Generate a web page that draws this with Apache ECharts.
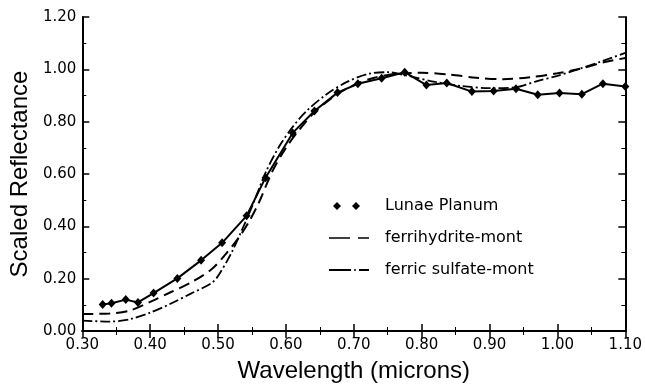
<!DOCTYPE html>
<html><head><meta charset="utf-8">
<script src="https://cdn.jsdelivr.net/npm/echarts@6/dist/echarts.min.js"></script>
<style>html,body{margin:0;padding:0;background:#fff}#c{width:645px;height:388px}</style>
</head><body><div id="c"></div>
<script>
// Lunae Planum measured points
const lunaeX = [0.330,0.343,0.364,0.382,0.405,0.440,0.475,0.506,0.542,0.570,0.610,0.642,0.676,0.706,0.741,0.775,0.807,0.837,0.874,0.906,0.939,0.971,1.003,1.036,1.067,1.100];
const lunaeY = [0.101,0.106,0.120,0.109,0.145,0.201,0.270,0.337,0.440,0.586,0.757,0.841,0.911,0.945,0.966,0.989,0.940,0.948,0.915,0.917,0.926,0.903,0.910,0.905,0.945,0.934];
// ferrihydrite-mont
const ferriX = [0.30,0.34,0.37,0.40,0.43,0.46,0.49,0.51,0.53,0.545,0.56,0.58,0.60,0.62,0.64,0.67,0.70,0.73,0.76,0.80,0.84,0.88,0.92,0.96,1.00,1.03,1.07,1.10];
const ferriY = [0.065,0.067,0.078,0.111,0.148,0.185,0.235,0.290,0.355,0.415,0.490,0.610,0.700,0.770,0.830,0.895,0.940,0.968,0.982,0.987,0.980,0.968,0.962,0.970,0.985,1.000,1.028,1.043];
// ferric sulfate-mont
const sulfX = [0.30,0.34,0.37,0.40,0.43,0.46,0.49,0.50,0.52,0.535,0.55,0.57,0.59,0.61,0.63,0.66,0.69,0.72,0.75,0.78,0.82,0.86,0.90,0.94,0.97,1.00,1.03,1.07,1.10];
const sulfY = [0.040,0.036,0.045,0.070,0.104,0.143,0.182,0.210,0.300,0.385,0.475,0.605,0.705,0.780,0.840,0.905,0.952,0.982,0.989,0.975,0.952,0.936,0.928,0.932,0.955,0.975,1.000,1.035,1.063];
// axis ticks
const xTicks = [0.30,0.40,0.50,0.60,0.70,0.80,0.90,1.00,1.10];
const yTicks = [0.00,0.20,0.40,0.60,0.80,1.00,1.20];

const pairs = (xs, ys) => xs.map((x, i) => [x, ys[i]]);
const F = 'DejaVu Sans';
const axisCommon = {
  axisLine: {show: true, lineStyle: {color: '#000', width: 2}},
  axisTick: {show: true, inside: true, length: 7, lineStyle: {color: '#000', width: 1.5}},
  minorTick: {show: true, splitNumber: 2, length: 4, lineStyle: {color: '#000', width: 1}},
  splitLine: {show: false}
};
const chart = echarts.init(document.getElementById('c'));
chart.setOption({
  animation: false,
  backgroundColor: '#fff',
  grid: {left: 82, right: 15, top: 17, bottom: 54},
  xAxis: [
    Object.assign({}, axisCommon, {
      type: 'value', min: xTicks[0], max: xTicks[xTicks.length-1], interval: 0.1,
      name: 'Wavelength (microns)', nameLocation: 'middle', nameGap: 28,
      nameTextStyle: {fontFamily: 'Liberation Sans', fontSize: 24, color: '#000'},
      axisLabel: {fontFamily: F, fontSize: 15, color: '#000', margin: 7, formatter: v => v.toFixed(2)}
    }),
    Object.assign({}, axisCommon, {
      type: 'value', position: 'top', min: xTicks[0], max: xTicks[xTicks.length-1], interval: 0.1,
      axisLabel: {show: false}
    })
  ],
  yAxis: [
    Object.assign({}, axisCommon, {
      type: 'value', min: yTicks[0], max: yTicks[yTicks.length-1], interval: 0.2,
      name: 'Scaled Reflectance', nameLocation: 'middle', nameGap: 48,
      nameTextStyle: {fontFamily: 'Liberation Sans', fontSize: 24, color: '#000'},
      axisLabel: {fontFamily: F, fontSize: 15, color: '#000', margin: 6, formatter: v => v.toFixed(2)}
    }),
    Object.assign({}, axisCommon, {
      type: 'value', position: 'right', min: yTicks[0], max: yTicks[yTicks.length-1], interval: 0.2,
      axisLabel: {show: false}
    })
  ],
  legend: {
    orient: 'vertical', left: 324, top: 191,
    itemWidth: 40, itemHeight: 10, itemGap: 12,
    symbolKeepAspect: true,
    textStyle: {fontFamily: F, fontSize: 16, color: '#000', lineHeight: 20, padding: [0,0,0,11]},
    data: [
      {name: 'Lunae Planum', icon: 'path://M0,0h0.01v0.01h-0.01Z M40,10h-0.01v-0.01h0.01Z M8,1L12,5L8,9L4,5Z M27,1L31,5L27,9L23,5Z'},
      {name: 'ferrihydrite-mont', icon: 'path://M0,0h0.01v0.01h-0.01Z M40,10h-0.01v-0.01h0.01Z M0,4.2h21v1.6h-21Z M29,4.2h11v1.6h-11Z'},
      {name: 'ferric sulfate-mont', icon: 'path://M0,0h0.01v0.01h-0.01Z M40,10h-0.01v-0.01h0.01Z M0,4.1h22v1.8h-22Z M25,4.2h2v1.6h-2Z M30,4.1h10v1.8h-10Z'}
    ]
  },
  series: [
    {name: 'Lunae Planum', type: 'line', data: pairs(lunaeX, lunaeY),
     symbol: 'diamond', symbolSize: [8, 9], showSymbol: true,
     itemStyle: {color: '#000'}, lineStyle: {color: '#000', width: 2}, z: 5},
    {name: 'ferrihydrite-mont', type: 'line', data: pairs(ferriX, ferriY), smooth: 0.3,
     symbol: 'none', itemStyle: {color: '#000'}, lineStyle: {color: '#000', width: 2, type: [11, 6]}},
    {name: 'ferric sulfate-mont', type: 'line', data: pairs(sulfX, sulfY), smooth: 0.3,
     symbol: 'none', itemStyle: {color: '#000'}, lineStyle: {color: '#000', width: 1.8, type: [10, 3, 2, 3]}}
  ]
});
</script>
</body></html>
